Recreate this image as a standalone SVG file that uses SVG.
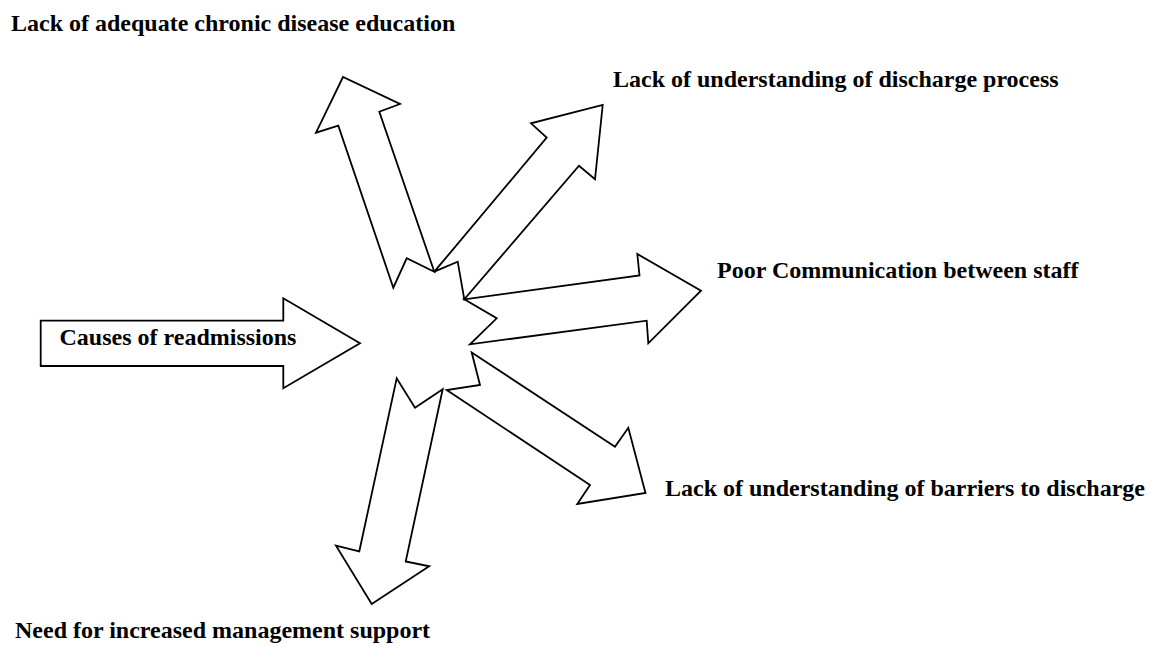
<svg xmlns="http://www.w3.org/2000/svg" width="1157" height="647" viewBox="0 0 1157 647">
  <style>
    .shape { fill: #ffffff; stroke: #000000; stroke-width: 1.8; stroke-linejoin: miter; }
    .label { font-family: "Liberation Serif", "Times New Roman", serif; font-weight: bold; font-size: 24px; fill: #000000; }
  </style>
  <rect width="1157" height="647" fill="#ffffff"/>
  <g id="connectors">
    <g id="arrow-education">
      <polygon class="shape" points="393.3,287.7 338.3,125.7 316,132.7 343,77 400,104 379.3,111.7 434.3,271.7 406.7,258.3"/>
    </g>
    <g id="arrow-discharge-process">
      <polygon class="shape" points="434.3,271.7 546.7,137.7 531,123.3 602.7,105 595,179.3 579,165.7 464.3,299.3 457.7,261.7"/>
    </g>
    <g id="arrow-communication">
      <polygon class="shape" points="464.3,299.3 639.5,275.5 637.3,254 701,290.7 648.3,343.3 646.7,320.7 470,344.3 496.7,318.3"/>
    </g>
    <g id="arrow-barriers">
      <polygon class="shape" points="471.7,352.5 615,446.7 628.3,427.8 645.5,493 577.3,504 590,485 446.7,390 480,385"/>
    </g>
    <g id="arrow-management">
      <polygon class="shape" points="442.7,389.3 405.7,561.5 429.2,566.3 371.7,604 336,545.7 359.3,551.3 396.7,378.3 415,407.7"/>
    </g>
  </g>
  <g id="node-causes">
    <polygon class="shape" points="40.7,320.7 283.3,320.7 283.3,298.3 360,343.3 283.3,388.3 283.3,366 40.7,366"/>
    <text class="label" x="59.5" y="345">Causes of readmissions</text>
  </g>
  <g id="node-education">
    <text class="label" x="11" y="31">Lack of adequate chronic disease education</text>
  </g>
  <g id="node-discharge-process">
    <text class="label" x="613" y="87">Lack of understanding of discharge process</text>
  </g>
  <g id="node-communication">
    <text class="label" x="717" y="278">Poor Communication between staff</text>
  </g>
  <g id="node-barriers">
    <text class="label" x="665" y="496">Lack of understanding of barriers to discharge</text>
  </g>
  <g id="node-management">
    <text class="label" x="15" y="638">Need for increased management support</text>
  </g>
</svg>
